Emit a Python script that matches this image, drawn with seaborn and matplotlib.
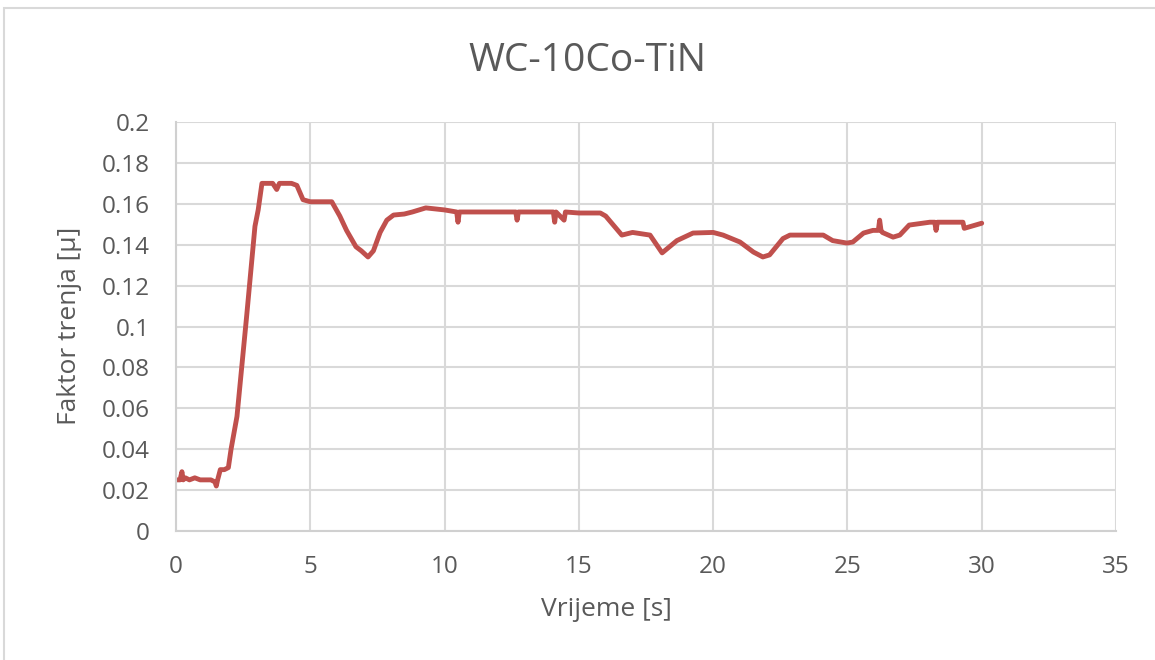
import pandas as pd
import matplotlib.pyplot as plt
import seaborn as sns
from matplotlib.patches import Rectangle

# friction coefficient readings
time_s = [0, 0.15, 0.22, 0.27, 0.35, 0.5, 0.7, 0.9, 1.1, 1.3, 1.45, 1.5, 1.55, 1.65,
          1.8, 1.95, 2.05, 2.27, 2.63, 2.94, 3.06, 3.2, 3.4, 3.6, 3.75, 3.85, 4.0,
          4.3, 4.5, 4.73, 5.0, 5.5, 5.8, 6.1, 6.35, 6.7, 6.9, 7.15, 7.35, 7.6, 7.85,
          8.1, 8.5, 8.8, 9.3, 10.0, 10.45, 10.5, 10.55, 11.5, 12.0, 12.65, 12.7,
          12.75, 13.5, 14.05, 14.1, 14.15, 14.45, 14.5, 15.0, 15.8, 16.0, 16.6,
          17.0, 17.65, 18.1, 18.65, 19.25, 20.0, 20.37, 21.0, 21.5, 21.85, 22.1,
          22.6, 22.86, 23.5, 24.1, 24.45, 24.98, 25.2, 25.6, 25.95, 26.15, 26.2,
          26.25, 26.3, 26.7, 26.95, 27.3, 28.07, 28.25, 28.3, 28.35, 29.0, 29.3,
          29.35, 30.0]
mu = [0.025, 0.025, 0.029, 0.025, 0.026, 0.025, 0.026, 0.025, 0.025, 0.025, 0.024,
      0.022, 0.025, 0.030, 0.030, 0.031, 0.040, 0.056, 0.105, 0.149, 0.157, 0.170,
      0.170, 0.170, 0.167, 0.170, 0.170, 0.170, 0.169, 0.162, 0.161, 0.161, 0.161,
      0.154, 0.147, 0.139, 0.137, 0.134, 0.137, 0.146, 0.152, 0.1545, 0.155, 0.156,
      0.158, 0.157, 0.156, 0.151, 0.156, 0.156, 0.156, 0.156, 0.152, 0.156, 0.156,
      0.156, 0.151, 0.156, 0.152, 0.156, 0.1555, 0.1555, 0.154, 0.1447, 0.146,
      0.1447, 0.136, 0.142, 0.1457, 0.146, 0.1447, 0.1413, 0.1364, 0.134, 0.135,
      0.143, 0.1447, 0.1447, 0.1447, 0.142, 0.1408, 0.1413, 0.1457, 0.147, 0.147,
      0.152, 0.147, 0.146, 0.1437, 0.1447, 0.1496, 0.151, 0.151, 0.147, 0.151,
      0.151, 0.151, 0.148, 0.1505]

x_ticks = [0, 5, 10, 15, 20, 25, 30, 35]
y_ticks = [0, 0.02, 0.04, 0.06, 0.08, 0.1, 0.12, 0.14, 0.16, 0.18, 0.2]
y_labels = ["0", "0.02", "0.04", "0.06", "0.08", "0.1", "0.12", "0.14", "0.16", "0.18", "0.2"]

df = pd.DataFrame({"Vrijeme": time_s, "Faktor": mu})

sns.set_style("whitegrid")
plt.rcParams["font.family"] = ["Open Sans", "DejaVu Sans"]

fig = plt.figure(figsize=(11.55, 6.6), dpi=100)
ax = fig.add_axes([176 / 1155, 129 / 660, 940 / 1155, 409 / 660])

sns.lineplot(data=df, x="Vrijeme", y="Faktor", color="#C0504D", linewidth=3.5, ax=ax)

ax.set_xlim(0, 35)
ax.set_ylim(0, 0.2)
ax.set_xticks(x_ticks)
ax.set_yticks(y_ticks)
ax.set_yticklabels(y_labels)
ax.grid(True, color="#D9D9D9", linewidth=1.5)
ax.tick_params(axis="both", length=0, labelsize=17.5, labelcolor="#595959")
ax.tick_params(axis="y", pad=19)
ax.tick_params(axis="x", pad=17)
for side in ["top", "right"]:
    ax.spines[side].set_visible(False)
for side in ["left", "bottom"]:
    ax.spines[side].set_color("#D0D0D0")
    ax.spines[side].set_linewidth(1.5)

ax.set_xlabel("")
ax.set_ylabel("")
fig.text(587 / 1155, 1 - 61 / 660, "WC-10Co-TiN", fontsize=28, color="#595959",
         ha="center", va="center")
fig.text(606 / 1155, 1 - 610 / 660, "Vrijeme [s]", fontsize=19, color="#595959",
         ha="center", va="center")
fig.text(70 / 1155, 1 - 326 / 660, "Faktor trenja [µ]", fontsize=19, color="#595959",
         ha="center", va="center", rotation=90)

# chart frame like the spreadsheet export
fig.patches.append(Rectangle((4 / 1155, -0.1), 1.2, 1.1 - 8 / 660, transform=fig.transFigure,
                             fill=False, edgecolor="#D9D9D9", linewidth=1.5))

fig.savefig("out.png", dpi=100)
